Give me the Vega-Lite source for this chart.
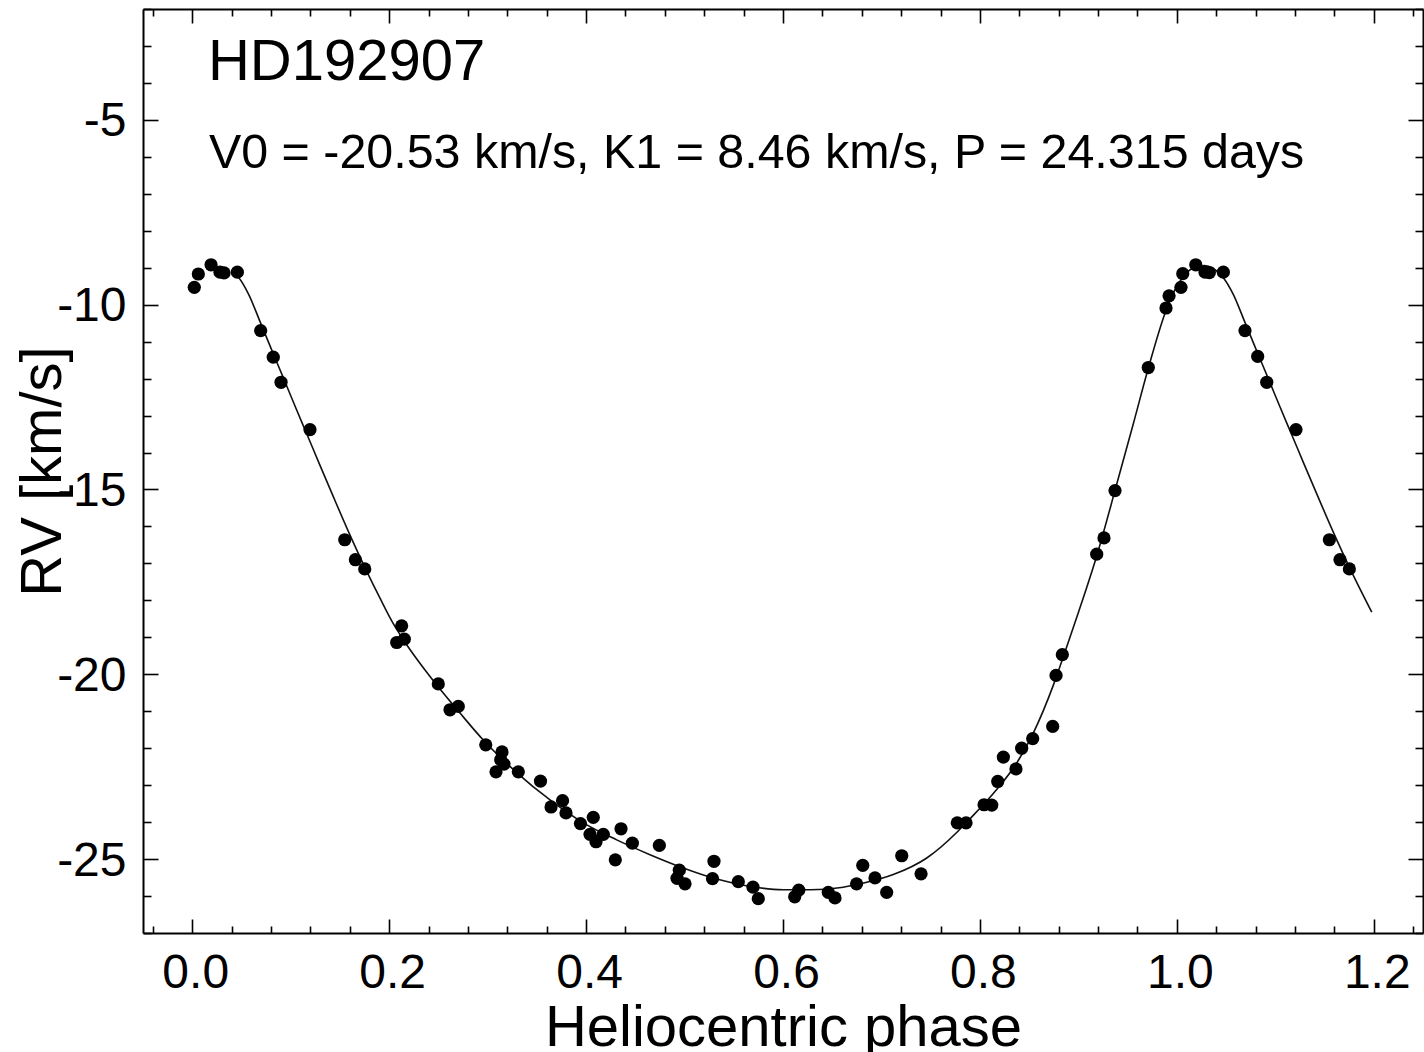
{
  "$schema": "https://vega.github.io/schema/vega-lite/v6.json",
  "width": 1280,
  "height": 924,
  "autosize": {"type": "none"},
  "padding": {"left": 143, "top": 9, "right": 1, "bottom": 119},
  "background": "white",
  "config": {
    "view": {"stroke": null},
    "font": "Liberation Sans",
    "axis": {
      "grid": false,
      "domainColor": "black",
      "domainWidth": 2,
      "tickColor": "black",
      "tickWidth": 1.6,
      "labelColor": "black",
      "labelFont": "Liberation Sans",
      "labelFontSize": 48,
      "labelOverlap": false,
      "labelFlush": false,
      "titleColor": "black",
      "titleFont": "Liberation Sans",
      "titleFontSize": 58,
      "titleFontWeight": "normal"
    }
  },
  "datasets": {
    "obs": [
      {"phase": 0.0021, "rv": -9.53}, {"phase": 0.0062, "rv": -9.17}, {"phase": 0.0191, "rv": -8.92},
      {"phase": 0.0282, "rv": -9.12}, {"phase": 0.0323, "rv": -9.14}, {"phase": 0.0458, "rv": -9.12},
      {"phase": 0.0695, "rv": -10.70}, {"phase": 0.0823, "rv": -11.42}, {"phase": 0.0902, "rv": -12.10},
      {"phase": 0.1196, "rv": -13.38}, {"phase": 0.1549, "rv": -16.36}, {"phase": 0.1657, "rv": -16.90},
      {"phase": 0.1752, "rv": -17.15}, {"phase": 0.2127, "rv": -18.69}, {"phase": 0.2077, "rv": -19.14},
      {"phase": 0.2154, "rv": -19.05}, {"phase": 0.2499, "rv": -20.26}, {"phase": 0.2618, "rv": -20.96},
      {"phase": 0.2702, "rv": -20.87}, {"phase": 0.2981, "rv": -21.91}, {"phase": 0.3146, "rv": -22.10},
      {"phase": 0.3133, "rv": -22.31}, {"phase": 0.3166, "rv": -22.43}, {"phase": 0.3085, "rv": -22.64},
      {"phase": 0.3312, "rv": -22.64}, {"phase": 0.3537, "rv": -22.89}, {"phase": 0.3644, "rv": -23.59},
      {"phase": 0.3761, "rv": -23.42}, {"phase": 0.3796, "rv": -23.75}, {"phase": 0.3943, "rv": -24.04},
      {"phase": 0.4073, "rv": -23.87}, {"phase": 0.4040, "rv": -24.33}, {"phase": 0.4101, "rv": -24.53},
      {"phase": 0.4175, "rv": -24.33}, {"phase": 0.4355, "rv": -24.18}, {"phase": 0.4470, "rv": -24.57},
      {"phase": 0.4297, "rv": -25.02}, {"phase": 0.4744, "rv": -24.63}, {"phase": 0.4947, "rv": -25.30},
      {"phase": 0.4924, "rv": -25.52}, {"phase": 0.5005, "rv": -25.67}, {"phase": 0.5299, "rv": -25.06},
      {"phase": 0.5284, "rv": -25.53}, {"phase": 0.5546, "rv": -25.61}, {"phase": 0.5695, "rv": -25.76},
      {"phase": 0.5749, "rv": -26.07}, {"phase": 0.6160, "rv": -25.84}, {"phase": 0.6119, "rv": -26.02},
      {"phase": 0.6460, "rv": -25.90}, {"phase": 0.6528, "rv": -26.05}, {"phase": 0.6747, "rv": -25.67},
      {"phase": 0.6810, "rv": -25.17}, {"phase": 0.6934, "rv": -25.51}, {"phase": 0.7053, "rv": -25.90},
      {"phase": 0.7206, "rv": -24.91}, {"phase": 0.7402, "rv": -25.40}, {"phase": 0.7770, "rv": -24.02},
      {"phase": 0.7859, "rv": -24.02}, {"phase": 0.8042, "rv": -23.53}, {"phase": 0.8120, "rv": -23.54},
      {"phase": 0.8181, "rv": -22.90}, {"phase": 0.8238, "rv": -22.24}, {"phase": 0.8366, "rv": -22.56},
      {"phase": 0.8424, "rv": -22.00}, {"phase": 0.8536, "rv": -21.74}, {"phase": 0.8739, "rv": -21.41},
      {"phase": 0.8773, "rv": -20.03}, {"phase": 0.8837, "rv": -19.47}, {"phase": 0.9186, "rv": -16.75},
      {"phase": 0.9260, "rv": -16.31}, {"phase": 0.9372, "rv": -15.03}, {"phase": 0.9710, "rv": -11.70},
      {"phase": 0.9890, "rv": -10.09}, {"phase": 0.9921, "rv": -9.76}, {"phase": 1.0042, "rv": -9.53},
      {"phase": 1.0060, "rv": -9.16}, {"phase": 1.0192, "rv": -8.92}, {"phase": 1.0286, "rv": -9.12},
      {"phase": 1.0330, "rv": -9.13}, {"phase": 1.0472, "rv": -9.12}, {"phase": 1.0692, "rv": -10.70},
      {"phase": 1.0821, "rv": -11.40}, {"phase": 1.0913, "rv": -12.10}, {"phase": 1.1210, "rv": -13.38},
      {"phase": 1.1549, "rv": -16.36}, {"phase": 1.1657, "rv": -16.90}, {"phase": 1.1752, "rv": -17.15}
    ],
    "fit": [
      {"phase": 0.043, "rv": -9.16}, {"phase": 0.0473, "rv": -9.27}, {"phase": 0.0573, "rv": -9.72},
      {"phase": 0.0692, "rv": -10.48}, {"phase": 0.0811, "rv": -11.25},
      {"phase": 0.0929, "rv": -12.00}, {"phase": 0.1048, "rv": -12.77}, {"phase": 0.1167, "rv": -13.52},
      {"phase": 0.1290, "rv": -14.30}, {"phase": 0.1421, "rv": -15.12}, {"phase": 0.1590, "rv": -16.16},
      {"phase": 0.1759, "rv": -17.14}, {"phase": 0.1907, "rv": -17.94}, {"phase": 0.2042, "rv": -18.63},
      {"phase": 0.2178, "rv": -19.20}, {"phase": 0.2415, "rv": -20.06}, {"phase": 0.2720, "rv": -21.05},
      {"phase": 0.2956, "rv": -21.78}, {"phase": 0.3295, "rv": -22.66}, {"phase": 0.3634, "rv": -23.40},
      {"phase": 0.3972, "rv": -24.02}, {"phase": 0.4311, "rv": -24.48}, {"phase": 0.4649, "rv": -24.88},
      {"phase": 0.4987, "rv": -25.24}, {"phase": 0.5327, "rv": -25.54}, {"phase": 0.5665, "rv": -25.74},
      {"phase": 0.6003, "rv": -25.83}, {"phase": 0.6274, "rv": -25.83}, {"phase": 0.6612, "rv": -25.76},
      {"phase": 0.6782, "rv": -25.67}, {"phase": 0.7120, "rv": -25.42}, {"phase": 0.7460, "rv": -24.97},
      {"phase": 0.7764, "rv": -24.28}, {"phase": 0.7866, "rv": -24.00}, {"phase": 0.8170, "rv": -23.12},
      {"phase": 0.8374, "rv": -22.40}, {"phase": 0.8542, "rv": -21.59}, {"phase": 0.8745, "rv": -20.30},
      {"phase": 0.8881, "rv": -19.26}, {"phase": 0.9000, "rv": -18.33}, {"phase": 0.9186, "rv": -16.80},
      {"phase": 0.9389, "rv": -14.86}, {"phase": 0.9558, "rv": -13.22}, {"phase": 0.9710, "rv": -11.72},
      {"phase": 0.9880, "rv": -10.23}, {"phase": 0.9964, "rv": -9.68}, {"phase": 1.0066, "rv": -9.24},
      {"phase": 1.0185, "rv": -8.98}, {"phase": 1.0280, "rv": -8.94}, {"phase": 1.0370, "rv": -9.02},
      {"phase": 1.0472, "rv": -9.27}, {"phase": 1.0573, "rv": -9.72}, {"phase": 1.0692, "rv": -10.48},
      {"phase": 1.0811, "rv": -11.25}, {"phase": 1.0929, "rv": -12.00}, {"phase": 1.1048, "rv": -12.77},
      {"phase": 1.1167, "rv": -13.52}, {"phase": 1.1290, "rv": -14.30}, {"phase": 1.1421, "rv": -15.12},
      {"phase": 1.1590, "rv": -16.16}, {"phase": 1.1759, "rv": -17.14}, {"phase": 1.1980, "rv": -18.32}
    ]
  },
  "layer": [
    {
      "data": {"name": "fit"},
      "mark": {"type": "line", "color": "#111111", "strokeWidth": 1.6, "interpolate": "monotone"},
      "encoding": {
        "x": {
          "field": "phase", "type": "quantitative",
          "scale": {"domain": [-0.05, 1.25], "nice": false, "zero": false},
          "axis": {
            "orient": "top",
            "values": [-0.04, 0, 0.04, 0.08, 0.12, 0.16, 0.2, 0.24, 0.28, 0.32, 0.36, 0.4, 0.44, 0.48, 0.52, 0.56, 0.6, 0.64, 0.68, 0.72, 0.76, 0.8, 0.84, 0.88, 0.92, 0.96, 1, 1.04, 1.08, 1.12, 1.16, 1.2, 1.24],
            "tickSize": {"condition": {"test": "abs(datum.value*5 - round(datum.value*5)) < 0.001", "value": -14}, "value": -7},
            "labels": false,
            "title": null
          }
        },
        "y": {
          "field": "rv", "type": "quantitative",
          "scale": {"domain": [-27, -2], "nice": false, "zero": false},
          "axis": {
            "orient": "right",
            "values": [-27, -26, -25, -24, -23, -22, -21, -20, -19, -18, -17, -16, -15, -14, -13, -12, -11, -10, -9, -8, -7, -6, -5, -4, -3, -2],
            "tickSize": {"condition": {"test": "datum.value % 5 == 0", "value": -15}, "value": -8},
            "labels": false,
            "title": null
          }
        }
      }
    },
    {
      "data": {"name": "obs"},
      "mark": {"type": "circle", "color": "black", "size": 175, "opacity": 1},
      "encoding": {
        "x": {
          "field": "phase", "type": "quantitative",
          "axis": {
            "orient": "bottom",
            "values": [-0.04, 0, 0.04, 0.08, 0.12, 0.16, 0.2, 0.24, 0.28, 0.32, 0.36, 0.4, 0.44, 0.48, 0.52, 0.56, 0.6, 0.64, 0.68, 0.72, 0.76, 0.8, 0.84, 0.88, 0.92, 0.96, 1, 1.04, 1.08, 1.12, 1.16, 1.2, 1.24],
            "tickSize": {"condition": {"test": "abs(datum.value*5 - round(datum.value*5)) < 0.001", "value": -14}, "value": -7},
            "labelExpr": "abs(datum.value*5 - round(datum.value*5)) < 0.001 ? format(datum.value, '.1f') : ''",
            "labelPadding": 30,
            "labelOffset": 3,
            "title": "Heliocentric phase",
            "titlePadding": -5
          }
        },
        "y": {
          "field": "rv", "type": "quantitative",
          "axis": {
            "orient": "left",
            "values": [-27, -26, -25, -24, -23, -22, -21, -20, -19, -18, -17, -16, -15, -14, -13, -12, -11, -10, -9, -8, -7, -6, -5, -4, -3, -2],
            "tickSize": {"condition": {"test": "datum.value % 5 == 0", "value": -15}, "value": -8},
            "labelExpr": "datum.value % 5 == 0 ? '' + datum.value : ''",
            "labelPadding": 32,
            "labelOffset": 2,
            "title": "RV [km/s]",
            "titlePadding": -16
          }
        }
      }
    },
    {
      "data": {"values": [{"label": "HD192907"}]},
      "mark": {"type": "text", "align": "left", "baseline": "alphabetic", "fontSize": 58, "font": "Liberation Sans", "color": "black"},
      "encoding": {
        "x": {"datum": 0.016, "type": "quantitative", "axis": null},
        "y": {"datum": -3.91, "type": "quantitative", "axis": null},
        "text": {"field": "label"}
      }
    },
    {
      "data": {"values": [{"label": "V0 = -20.53 km/s, K1 = 8.46 km/s, P = 24.315 days"}]},
      "mark": {"type": "text", "align": "left", "baseline": "alphabetic", "fontSize": 48.4, "font": "Liberation Sans", "color": "black"},
      "encoding": {
        "x": {"datum": 0.017, "type": "quantitative", "axis": null},
        "y": {"datum": -6.29, "type": "quantitative", "axis": null},
        "text": {"field": "label"}
      }
    }
  ],
  "resolve": {"axis": {"x": "independent", "y": "independent"}}
}
